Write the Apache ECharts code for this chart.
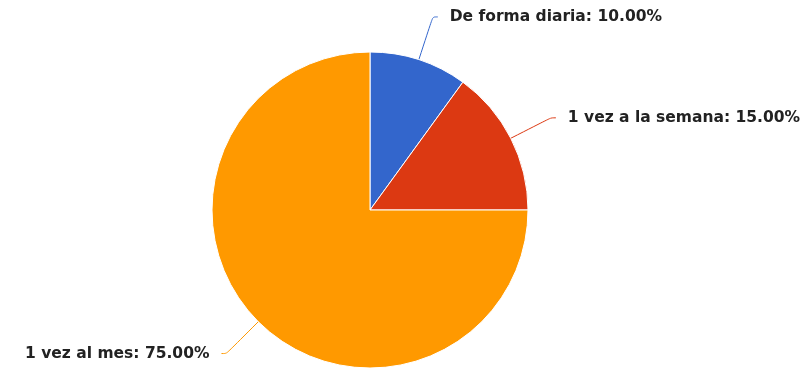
<!DOCTYPE html>
<html>
<head>
<meta charset="utf-8">
<script src="https://cdn.jsdelivr.net/npm/echarts@6/dist/echarts.min.js"></script>
<style>
  html,body{margin:0;padding:0;background:#fff;}
  #chart{width:808px;height:373px;}
</style>
</head>
<body>
<div id="chart"></div>
<script>
// slices, in drawing order (clockwise from 12 o'clock)
const categories = ['De forma diaria', '1 vez a la semana', '1 vez al mes'];
const percents = [10.00, 15.00, 75.00];
const colors = ['#3366cc', '#dc3912', '#ff9900'];

const chart = echarts.init(document.getElementById('chart'));

const option = {
    animation: false,
    series: [{
        type: 'pie',
        center: [370, 210],
        radius: 158,
        startAngle: 90,
        clockwise: true,
        itemStyle: {
            borderColor: '#fff',
            borderWidth: 1
        },
        label: {
            show: true,
            position: 'outside',
            formatter: p => p.name + ': ' + p.value.toFixed(2) + '%',
            color: '#222',
            fontFamily: 'DejaVu Sans',
            fontWeight: 'bold',
            fontSize: 15.5,
            overflow: 'none',
            distanceToLabelLine: 12
        },
        labelLine: {
            show: true,
            smooth: true,
            length: 45,
            length2: 5,
            lineStyle: { width: 1 }
        },
        data: categories.map((c, i) => ({
            name: c,
            value: percents[i],
            itemStyle: { color: colors[i] }
        }))
    }]
};

chart.setOption(option);
</script>
</body>
</html>
